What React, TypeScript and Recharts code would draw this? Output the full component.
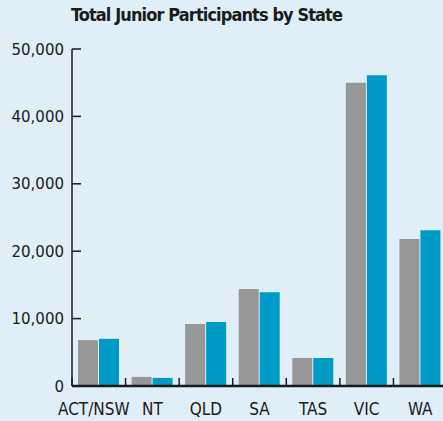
import { BarChart, Bar, XAxis, YAxis } from 'recharts';

const states = ['ACT/NSW', 'NT', 'QLD', 'SA', 'TAS', 'VIC', 'WA'];
const priorTotals = [6800, 1350, 9200, 14400, 4150, 45000, 21800];
const currentTotals = [7000, 1200, 9500, 13900, 4150, 46100, 23100];
const yTicks = [0, 10000, 20000, 30000, 40000, 50000];

const data = states.map((state, i) => ({
  state,
  prior: priorTotals[i],
  current: currentTotals[i],
}));

const INK = '#1b1b1b';
const BG = '#dfeef7';

// y ticks sit inside the plot, text to the left of the axis
function YTick({ x, y, payload }: any) {
  return (
    <g>
      <line x1={x + 8} x2={x + 17} y1={y} y2={y} stroke={INK} strokeWidth={1.5} />
      <text
        x={x}
        y={y + 5.5}
        textAnchor="end"
        fill={INK}
        fontFamily="'DejaVu Sans', sans-serif"
        fontSize={15}
      >
        {payload.value.toLocaleString('en-US')}
      </text>
    </g>
  );
}

// x ticks mark the category boundaries, labels stay centred
// (the long first label is nudged left like in the print version)
function XTick({ x, y, payload, index }: any) {
  const half = payload.offset ?? 26.8;
  return (
    <g>
      <line x1={x - half} x2={x - half} y1={y} y2={y - 8} stroke={INK} strokeWidth={1.5} />
      <text
        x={index === 0 ? x - 5 : x}
        y={y + 29}
        textAnchor="middle"
        fill={INK}
        fontFamily="'DejaVu Sans Condensed', 'DejaVu Sans', sans-serif"
        fontSize={17}
      >
        {payload.value}
      </text>
    </g>
  );
}

export default function App() {
  return (
    <div
      style={{
        position: 'absolute',
        left: 0,
        top: 0,
        width: 443,
        height: 421,
        overflow: 'hidden',
        background: BG,
      }}
    >
      <div
        style={{
          position: 'absolute',
          left: 71,
          top: 6,
          fontFamily: "'DejaVu Sans Condensed', sans-serif",
          fontWeight: 'bold',
          fontSize: 18,
          letterSpacing: -0.9,
          lineHeight: 1,
          color: INK,
          whiteSpace: 'nowrap',
        }}
      >
        Total Junior Participants by State
      </div>
      <BarChart
        width={448}
        height={421}
        data={data}
        margin={{ top: 49, right: 1, left: 0, bottom: 0 }}
        barSize={20}
        barGap={1}
      >
        <XAxis
          dataKey="state"
          height={35}
          axisLine={{ stroke: INK, strokeWidth: 2.5 }}
          tickLine={false}
          tickSize={0}
          tickMargin={0}
          interval={0}
          tick={<XTick />}
        />
        <YAxis
          width={72}
          domain={[0, 50000]}
          ticks={yTicks}
          axisLine={{ stroke: INK, strokeWidth: 1.5 }}
          tickLine={false}
          tickSize={0}
          tickMargin={8}
          interval={0}
          tick={<YTick />}
        />
        <Bar dataKey="prior" fill="#979797" isAnimationActive={false} />
        <Bar dataKey="current" fill="#009ac7" isAnimationActive={false} />
      </BarChart>
    </div>
  );
}
